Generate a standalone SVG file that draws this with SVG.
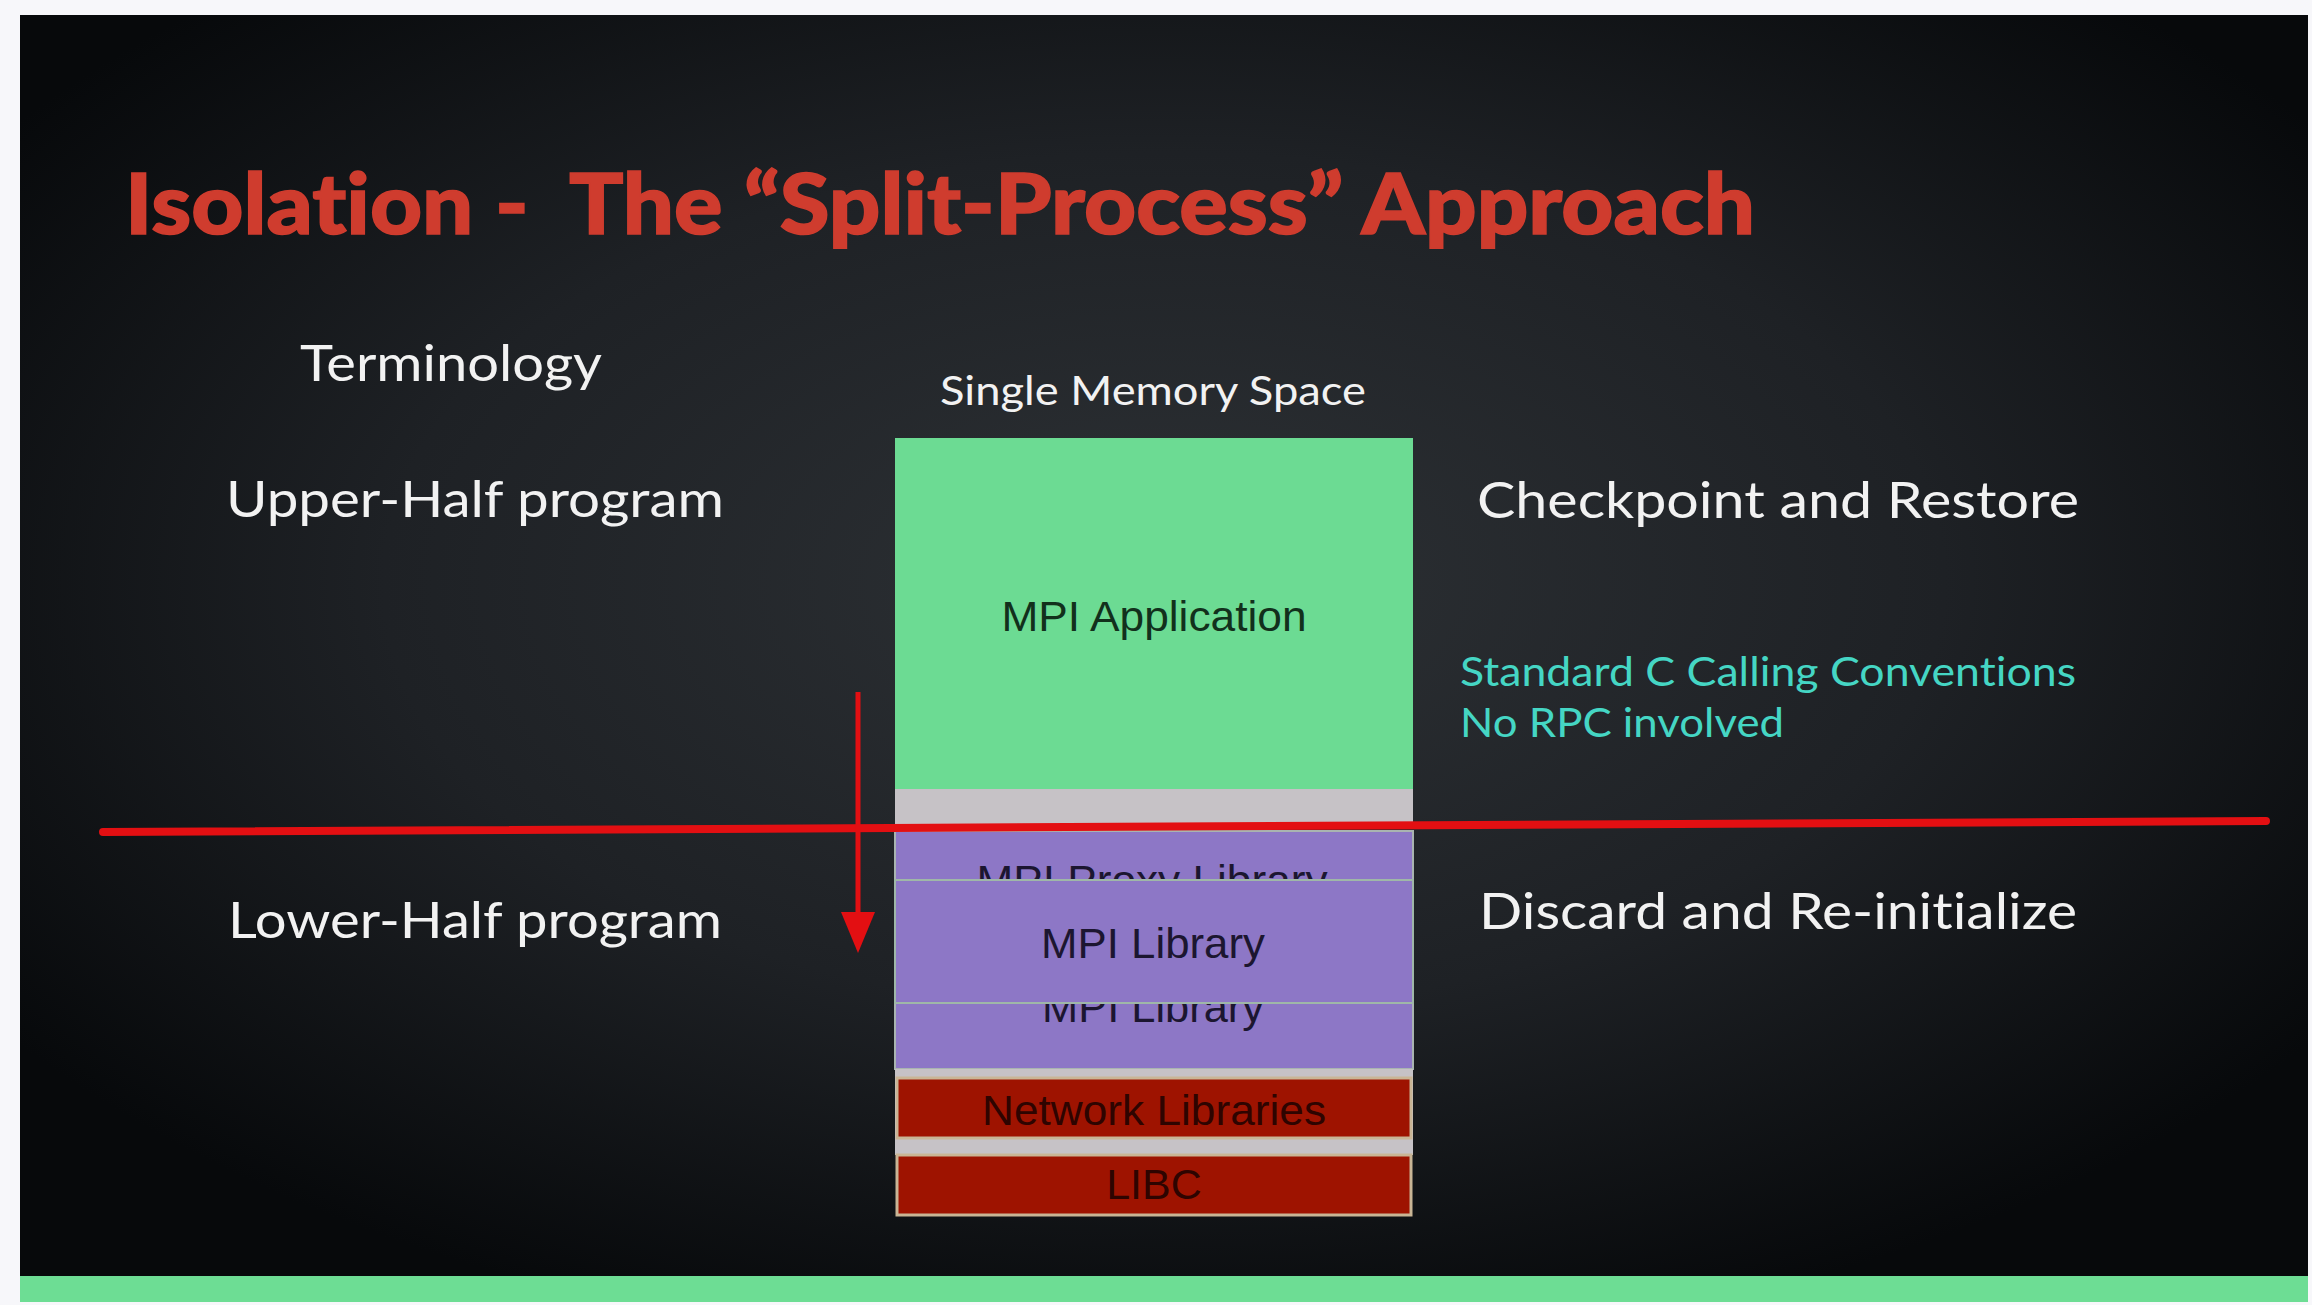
<svg xmlns="http://www.w3.org/2000/svg" width="2312" height="1305" viewBox="0 0 2312 1305">
  <defs>
    <radialGradient id="bg" cx="50%" cy="45%" r="62%" fx="50%" fy="45%">
      <stop offset="0" stop-color="#2d3135"/>
      <stop offset="0.55" stop-color="#1e2125"/>
      <stop offset="1" stop-color="#07090b"/>
    </radialGradient>
    <style>
      text { font-variant-ligatures: none; }
      .label { font-family: Lato, "Open Sans", sans-serif; fill: #f2f2f2; }
      .note { font-family: Lato, "Open Sans", sans-serif; fill: #45d6c4; font-size: 40px; }
      .box-text { font-family: "Liberation Sans", Arial, sans-serif; font-size: 43px; text-anchor: middle; }
      .purple { fill: #8d77c6; }
      .red-box { fill: #9e1300; stroke: #c9b595; stroke-width: 3; }
      .gap { fill: #c6c2c6; }
      .conn { stroke: #e30f12; fill: none; }
    </style>
  </defs>

  <!-- page frame -->
  <rect x="0" y="0" width="2312" height="1305" fill="#f7f7fa"/>
  <rect x="20" y="15" width="2288" height="1262" fill="url(#bg)"/>
  <rect x="20" y="1276" width="2288" height="26" fill="#6ddd94"/>

  <!-- title -->
  <text x="125" y="234" xml:space="preserve" font-family="Lato, 'Open Sans', sans-serif" font-weight="900" font-size="84" fill="#cf3c2e" stroke="#cf3c2e" stroke-width="1.5" textLength="1630" lengthAdjust="spacingAndGlyphs">Isolation -  The “Split-Process” Approach</text>

  <!-- side labels -->
  <g id="terminology"><text class="label" x="300" y="381" font-size="50" textLength="302" lengthAdjust="spacingAndGlyphs">Terminology</text></g>
  <g id="memory-space-title"><text class="label" x="940" y="405" font-size="40" textLength="426" lengthAdjust="spacingAndGlyphs">Single Memory Space</text></g>
  <g id="upper-half"><text class="label" x="226" y="517" font-size="50" textLength="498" lengthAdjust="spacingAndGlyphs">Upper-Half program</text></g>
  <g id="checkpoint"><text class="label" x="1477" y="518" font-size="50" textLength="602" lengthAdjust="spacingAndGlyphs">Checkpoint and Restore</text></g>
  <g id="lower-half"><text class="label" x="228" y="938" font-size="50" textLength="494" lengthAdjust="spacingAndGlyphs">Lower-Half program</text></g>
  <g id="discard"><text class="label" x="1479" y="929" font-size="50" textLength="598" lengthAdjust="spacingAndGlyphs">Discard and Re-initialize</text></g>
  <g id="calling-note">
    <text class="note" x="1460" y="686" textLength="616" lengthAdjust="spacingAndGlyphs">Standard C Calling Conventions</text>
    <text class="note" x="1460" y="737" textLength="324" lengthAdjust="spacingAndGlyphs">No RPC involved</text>
  </g>

  <!-- memory stack -->
  <g id="mpi-application">
    <rect x="895" y="438" width="518" height="351" fill="#6cdb93"/>
    <text class="box-text" x="1154" y="631" fill="#12301c" textLength="305" lengthAdjust="spacingAndGlyphs">MPI Application</text>
  </g>
  <g id="upper-gap"><rect class="gap" x="895" y="789" width="518" height="40"/></g>
  <g id="mpi-proxy-library">
    <rect class="purple" x="895" y="831" width="518" height="130" stroke="#a9b4b0" stroke-width="2"/>
    <text class="box-text" x="1152" y="895" fill="#1c1630" textLength="351" lengthAdjust="spacingAndGlyphs">MPI Proxy Library</text>
  </g>
  <g id="mpi-library-lower">
    <rect class="purple" x="895" y="960" width="518" height="109" stroke="#a9b4b0" stroke-width="2"/>
    <text class="box-text" x="1153" y="1022" fill="#1c1630" textLength="222" lengthAdjust="spacingAndGlyphs">MPI Library</text>
  </g>
  <g id="mpi-library">
    <rect class="purple" x="895" y="880" width="518" height="123" stroke="#9fb7a8" stroke-width="2"/>
    <text class="box-text" x="1153" y="958" fill="#1c1630" textLength="224" lengthAdjust="spacingAndGlyphs">MPI Library</text>
  </g>
  <g id="lower-gap"><rect class="gap" x="895" y="1069" width="518" height="86"/></g>
  <g id="network-libraries">
    <rect class="red-box" x="897" y="1078" width="514" height="60"/>
    <text class="box-text" x="1154" y="1125" fill="#2e0400" textLength="344" lengthAdjust="spacingAndGlyphs">Network Libraries</text>
  </g>
  <g id="libc">
    <rect class="red-box" x="897" y="1155" width="514" height="60"/>
    <text class="box-text" x="1154" y="1199" fill="#2e0400">LIBC</text>
  </g>

  <!-- connectors -->
  <g id="connectors">
    <line class="conn" x1="103" y1="832" x2="2266" y2="821" stroke-width="8" stroke-linecap="round"/>
    <line class="conn" x1="858" y1="692" x2="858" y2="915" stroke-width="5"/>
    <polygon points="841,912 875,912 858,953" fill="#e30f12"/>
  </g>
</svg>
